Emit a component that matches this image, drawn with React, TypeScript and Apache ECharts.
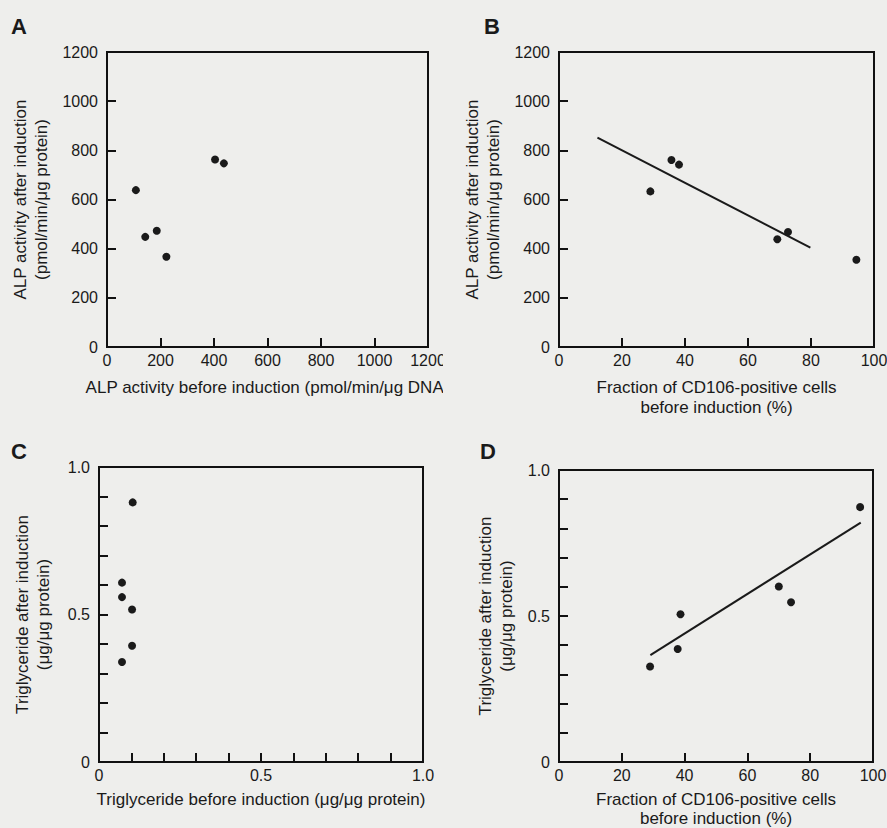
import React, { useEffect, useRef } from "react";
import * as echarts from "echarts";

// Panel A: ALP before (x) vs after (y)
const alpBefore = [108, 143, 186, 222, 404, 437];
const alpAfterA = [638, 448, 473, 367, 763, 747];

// Panel B: CD106 fraction (x) vs ALP after (y)
const cd106B = [29.0, 35.7, 38.1, 69.3, 72.7, 94.4];
const alpAfterB = [633, 761, 742, 438, 468, 355];
const fitB = [
  [12.2, 852],
  [79.8, 404],
];

// Panel C: triglyceride before (x) vs after (y)
const tgBefore = [0.104, 0.071, 0.071, 0.102, 0.102, 0.071];
const tgAfterC = [0.88, 0.608, 0.559, 0.517, 0.394, 0.339];

// Panel D: CD106 fraction (x) vs triglyceride after (y)
const cd106D = [95.9, 70.0, 73.9, 38.7, 37.8, 29.0];
const tgAfterD = [0.873, 0.601, 0.547, 0.506, 0.387, 0.327];
const fitD = [
  [29.1, 0.366],
  [96.1, 0.82],
];

const alpTicks = [0, 200, 400, 600, 800, 1000, 1200];
const pctTicks = [0, 20, 40, 60, 80, 100];
const tgLabels = ["0", "0.5", "1.0"];

const INK = "#1a1a1a";
const LINE = "#111111";
const BG = "#eeeeec";
const FONT = "Liberation Sans, Arial, sans-serif";

const zip = (a: number[], b: number[]) => a.map((v, i) => [v, b[i]]);
const tgFmt = (v: number) => {
  if (Math.abs(v) < 1e-9) return tgLabels[0];
  if (Math.abs(v - 0.5) < 1e-9) return tgLabels[1];
  if (Math.abs(v - 1) < 1e-9) return tgLabels[2];
  return "";
};
const plainFmt = (v: number) => String(Math.round(v));

type AxisSpec = {
  min: number;
  max: number;
  interval: number;
  fmt: (v: number) => string;
  name: string;
  gap: number;
  lh: number;
};

type PanelSpec = {
  letter: string;
  box: { left: number; top: number; width: number; height: number };
  grid: { left: number; top: number; width: number; height: number };
  labelPos: [number, number];
  x: AxisSpec;
  y: AxisSpec;
  points: number[][];
  fit?: number[][];
};

const alpMin = alpTicks[0];
const alpMax = alpTicks[alpTicks.length - 1];
const pctMin = pctTicks[0];
const pctMax = pctTicks[pctTicks.length - 1];

const panels: PanelSpec[] = [
  {
    letter: "A",
    box: { left: 0, top: 0, width: 443, height: 420 },
    grid: { left: 107, top: 52, width: 321, height: 295 },
    labelPos: [11, 15],
    x: { min: alpMin, max: alpMax, interval: 200, fmt: plainFmt, name: "ALP activity before induction (pmol/min/μg DNA)", gap: 30, lh: 21 },
    y: { min: alpMin, max: alpMax, interval: 200, fmt: plainFmt, name: "ALP activity after induction\n(pmol/min/μg protein)", gap: 51, lh: 21 },
    points: zip(alpBefore, alpAfterA),
  },
  {
    letter: "B",
    box: { left: 443, top: 0, width: 444, height: 420 },
    grid: { left: 116, top: 52, width: 315, height: 295 },
    labelPos: [41, 15],
    x: { min: pctMin, max: pctMax, interval: 20, fmt: plainFmt, name: "Fraction of CD106-positive cells\nbefore induction (%)", gap: 30, lh: 20 },
    y: { min: alpMin, max: alpMax, interval: 200, fmt: plainFmt, name: "ALP activity after induction\n(pmol/min/μg protein)", gap: 40, lh: 21 },
    points: zip(cd106B, alpAfterB),
    fit: fitB,
  },
  {
    letter: "C",
    box: { left: 0, top: 420, width: 443, height: 408 },
    grid: { left: 99, top: 47, width: 324, height: 295 },
    labelPos: [11, 20],
    x: { min: 0, max: 1, interval: 0.1, fmt: tgFmt, name: "Triglyceride before induction (μg/μg protein)", gap: 27, lh: 21 },
    y: { min: 0, max: 1, interval: 0.1, fmt: tgFmt, name: "Triglyceride after induction\n(μg/μg protein)", gap: 45, lh: 21 },
    points: zip(tgBefore, tgAfterC),
  },
  {
    letter: "D",
    box: { left: 443, top: 420, width: 444, height: 408 },
    grid: { left: 116, top: 50, width: 314, height: 292 },
    labelPos: [37, 20],
    x: { min: pctMin, max: pctMax, interval: 20, fmt: plainFmt, name: "Fraction of CD106-positive cells\nbefore induction (%)", gap: 28, lh: 19 },
    y: { min: 0, max: 1, interval: 0.1, fmt: tgFmt, name: "Triglyceride after induction\n(μg/μg protein)", gap: 37, lh: 21 },
    points: zip(cd106D, tgAfterD),
    fit: fitD,
  },
];

function Panel({ spec }: { spec: PanelSpec }) {
  const ref = useRef<HTMLDivElement>(null);
  useEffect(() => {
    if (!ref.current) return;
    const chart = echarts.init(ref.current, null, { renderer: "svg" });
    const mkAxis = (s: AxisSpec, isX: boolean) => ({
      type: "value",
      min: s.min,
      max: s.max,
      interval: s.interval,
      axisLine: { show: true, onZero: false, lineStyle: { color: LINE, width: 2 } },
      axisTick: { show: true, inside: true, length: 9, lineStyle: { color: LINE, width: 2 } },
      splitLine: { show: false },
      axisLabel: {
        color: INK,
        fontSize: 16,
        fontFamily: FONT,
        margin: isX ? 5 : 9,
        formatter: s.fmt,
        showMinLabel: true,
        showMaxLabel: true,
      },
      name: s.name,
      nameLocation: "middle",
      nameGap: s.gap,
      nameTextStyle: { color: INK, fontSize: 17, fontFamily: FONT, lineHeight: s.lh },
    });
    const series: any[] = [
      {
        type: "scatter",
        data: spec.points,
        symbol: "circle",
        symbolSize: 8,
        itemStyle: { color: INK, opacity: 1 },
        z: 3,
      },
    ];
    if (spec.fit) {
      series.push({
        type: "line",
        data: spec.fit,
        showSymbol: false,
        symbol: "none",
        lineStyle: { color: INK, width: 2 },
        z: 2,
      });
    }
    const g = spec.grid;
    chart.setOption({
      animation: false,
      backgroundColor: BG,
      grid: {
        left: g.left,
        top: g.top,
        width: g.width,
        height: g.height,
        show: true,
        borderColor: LINE,
        borderWidth: 2,
        outerBoundsMode: "none",
      },
      xAxis: mkAxis(spec.x, true),
      yAxis: mkAxis(spec.y, false),
      series,
      graphic: [
        {
          type: "rect",
          shape: { x: g.left, y: g.top, width: g.width, height: g.height },
          style: { fill: "none", stroke: LINE, lineWidth: 2 },
        },
        {
          type: "text",
          left: spec.labelPos[0],
          top: spec.labelPos[1],
          style: { text: spec.letter, fill: INK, fontSize: 22, fontWeight: "bold", fontFamily: FONT },
        },
      ],
    });
    return () => chart.dispose();
  }, [spec]);
  const b = spec.box;
  return (
    <div
      ref={ref}
      style={{ position: "absolute", left: b.left, top: b.top, width: b.width, height: b.height }}
    />
  );
}

export default function App() {
  return (
    <div
      style={{
        position: "fixed",
        left: 0,
        top: 0,
        width: 887,
        height: 828,
        background: BG,
        overflow: "hidden",
      }}
    >
      {panels.map((p) => (
        <Panel key={p.letter} spec={p} />
      ))}
    </div>
  );
}
